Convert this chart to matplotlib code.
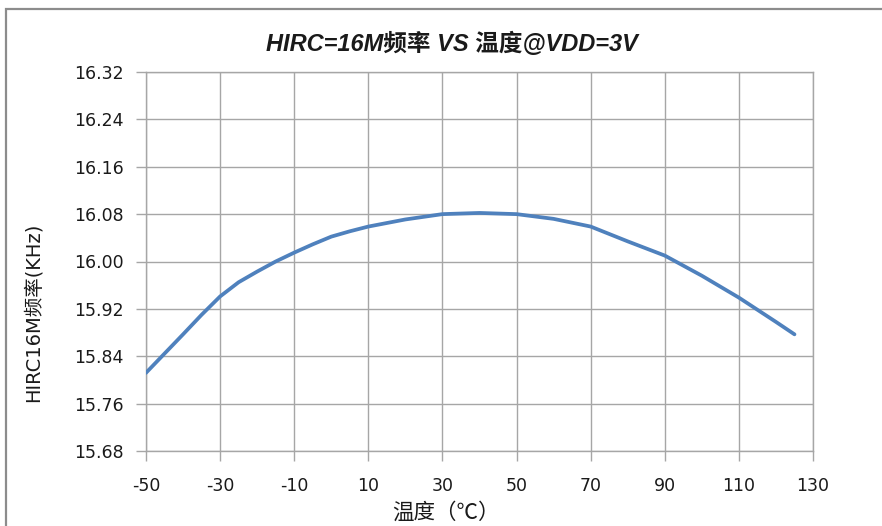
import matplotlib
matplotlib.use("Agg")
import matplotlib.pyplot as plt
from matplotlib.patches import Rectangle

plt.rcParams['font.family'] = ['DejaVu Sans', 'Noto Sans CJK SC']

# Data
temps = [-50, -40, -35, -30, -25, -20, -15, -10, -5, 0, 5, 10, 20, 30, 40, 50, 60, 70, 80, 90, 100, 110, 120, 125]
freq = [15.812, 15.877, 15.910, 15.941, 15.965, 15.983, 16.000, 16.015, 16.029, 16.042, 16.051, 16.059,
        16.071, 16.080, 16.082, 16.080, 16.072, 16.059, 16.034, 16.010, 15.976, 15.939, 15.898, 15.877]
x_ticks = [-50, -30, -10, 10, 30, 50, 70, 90, 110, 130]
y_ticks = [15.68, 15.76, 15.84, 15.92, 16.00, 16.08, 16.16, 16.24, 16.32]

title = "HIRC=16M频率 VS 温度@VDD=3V"
xlabel = "温度（℃）"
ylabel = "HIRC16M频率(KHz)"

W, H = 882, 526
fig = plt.figure(figsize=(W / 100, H / 100), dpi=100)

# outer chart frame
fig.patches.append(Rectangle((6 / W, -0.01), 1.0, (H - 9) / H + 0.01, transform=fig.transFigure,
                             fill=False, edgecolor='#8c8c8c', linewidth=1.6))

left, right, top, bottom = 146, 813, 72, 451
ax = fig.add_axes([left / W, 1 - bottom / H, (right - left) / W, (bottom - top) / H])

ax.plot(temps, freq, color='#4f81bd', linewidth=2.7, solid_capstyle='round',
        solid_joinstyle='round', zorder=3)

ax.set_xlim(-50, 130)
ax.set_ylim(15.68, 16.32)
ax.set_xticks(x_ticks)
ax.set_yticks(y_ticks)
ax.set_xticklabels([str(t) for t in x_ticks])
ax.set_yticklabels([f"{v:.2f}" for v in y_ticks])
ax.grid(True, color='#a6a6a6', linewidth=1.0, zorder=0)
for s in ax.spines.values():
    s.set_color('#a6a6a6')
    s.set_linewidth(1.0)
ax.tick_params(axis='both', direction='out', length=7, color='#a6a6a6', width=1.0,
               labelsize=12.5, labelcolor='#1a1a1a')
ax.tick_params(axis='y', pad=9)
ax.tick_params(axis='x', pad=12)

fig.text(452 / W, 1 - 44 / H, title, ha='center', va='center', fontsize=17,
         fontweight='bold', fontstyle='italic',
         family=['Liberation Sans', 'Noto Sans CJK SC'], color='#1a1a1a')
fig.text(446 / W, 1 - 513 / H, xlabel, ha='center', va='center', fontsize=15.5,
         family=['Noto Sans CJK SC', 'DejaVu Sans'], color='#1a1a1a')
fig.text(33 / W, 1 - 312 / H, ylabel, ha='center', va='center', fontsize=14,
         rotation=90, family=['DejaVu Sans', 'Noto Sans CJK SC'], color='#1a1a1a')

fig.savefig("out.png", dpi=100)
